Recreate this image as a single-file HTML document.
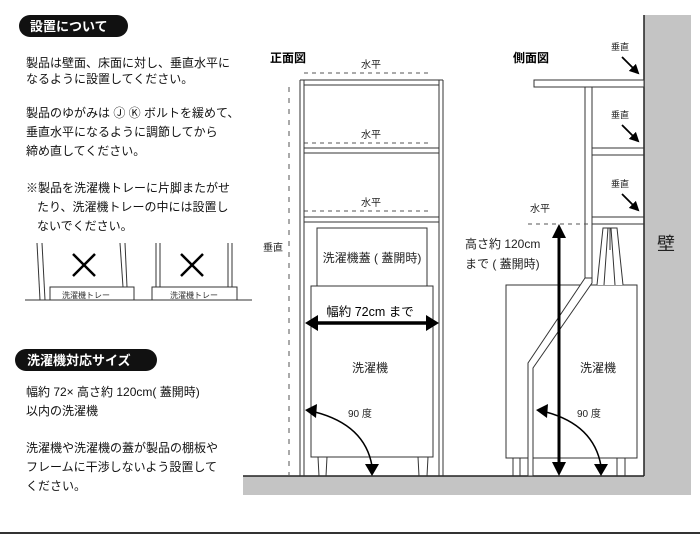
<!DOCTYPE html>
<html><head><meta charset="utf-8"><style>
html,body{margin:0;padding:0;background:#fff;}
svg{display:block;font-family:"Liberation Sans","Noto Sans CJK JP",sans-serif;}
</style></head><body>
<svg width="700" height="535" viewBox="0 0 700 535" xmlns="http://www.w3.org/2000/svg">
<defs>
<marker id="ah" markerWidth="10" markerHeight="10" refX="8" refY="5" orient="auto" markerUnits="userSpaceOnUse"><path d="M0,0 L10,5 L0,10 z" fill="#000"/></marker>
</defs>
<!-- left text -->
<rect x="19" y="15" width="109" height="22" rx="11" fill="#111"/>
<text x="30" y="31" fill="#fff" font-size="13" font-weight="bold">設置について</text>
<g font-size="12" fill="#111">
<text x="26" y="67">製品は壁面、床面に対し、垂直水平に</text>
<text x="26" y="83">なるように設置してください。</text>
<text x="26" y="117">製品のゆがみは Ⓙ Ⓚ ボルトを緩めて、</text>
<text x="26" y="136">垂直水平になるように調節してから</text>
<text x="26" y="155">締め直してください。</text>
<text x="26" y="192">※製品を洗濯機トレーに片脚またがせ</text>
<text x="37" y="211">たり、洗濯機トレーの中には設置し</text>
<text x="37" y="230">ないでください。</text>
</g>
<!-- tray diagrams -->
<g stroke="#333" stroke-width="1" fill="none">
<line x1="25" y1="300" x2="252" y2="300"/>
<line x1="37" y1="243" x2="40" y2="300"/><line x1="42" y1="243" x2="45" y2="300"/>
<line x1="120" y1="243" x2="123" y2="287"/><line x1="125" y1="243" x2="127" y2="287"/>
<rect x="50" y="287" width="84" height="13" fill="#fff"/>
<line x1="156" y1="243" x2="156" y2="300"/><line x1="160" y1="243" x2="160" y2="300"/>
<line x1="228" y1="243" x2="228" y2="300"/><line x1="232" y1="243" x2="232" y2="300"/>
<rect x="152" y="287" width="85" height="13" fill="#fff"/>
</g>
<g stroke="#000" stroke-width="2.5"><line x1="73" y1="254" x2="95" y2="276"/><line x1="95" y1="254" x2="73" y2="276"/><line x1="181" y1="254" x2="203" y2="276"/><line x1="203" y1="254" x2="181" y2="276"/></g>
<text x="62" y="298" font-size="8" fill="#333">洗濯機トレー</text>
<text x="170" y="298" font-size="8" fill="#333">洗濯機トレー</text>
<rect x="15" y="349" width="142" height="22" rx="11" fill="#111"/>
<text x="27" y="365" fill="#fff" font-size="13" font-weight="bold">洗濯機対応サイズ</text>
<g font-size="12" fill="#111">
<text x="26" y="396">幅約 72× 高さ約 120cm( 蓋開時)</text>
<text x="26" y="415">以内の洗濯機</text>
<text x="26" y="452">洗濯機や洗濯機の蓋が製品の棚板や</text>
<text x="26" y="471">フレームに干渉しないよう設置して</text>
<text x="26" y="490">ください。</text>
</g>
<!-- floor & wall -->
<rect x="243" y="476" width="448" height="19" fill="#c4c4c4"/>
<rect x="644" y="15" width="47" height="480" fill="#c4c4c4"/>
<line x1="243" y1="476" x2="644" y2="476" stroke="#222" stroke-width="1.5"/>
<line x1="644" y1="15" x2="644" y2="476" stroke="#222" stroke-width="1.5"/>
<text x="657" y="250" font-size="18" fill="#222">壁</text>
<line x1="0" y1="533" x2="700" y2="533" stroke="#333" stroke-width="2"/>
<!-- front view -->
<text x="270" y="62" font-size="12" font-weight="bold">正面図</text>
<g font-size="10" fill="#222"><text x="361" y="68">水平</text><text x="361" y="138">水平</text><text x="361" y="206">水平</text><text x="263" y="251">垂直</text></g>
<g stroke="#555" stroke-width="1" stroke-dasharray="4,4" fill="none">
<line x1="304" y1="73" x2="432" y2="73"/><line x1="304" y1="143" x2="432" y2="143"/><line x1="304" y1="211" x2="432" y2="211"/>
<line x1="289" y1="87" x2="289" y2="476" stroke-dasharray="5,6"/>
</g>
<g stroke="#333" stroke-width="1" fill="none">
<line x1="300" y1="80" x2="300" y2="476"/><line x1="304" y1="80" x2="304" y2="476"/>
<line x1="439" y1="80" x2="439" y2="476"/><line x1="443" y1="80" x2="443" y2="476"/>
<line x1="300" y1="80" x2="443" y2="80"/><line x1="304" y1="85" x2="439" y2="85"/>
<line x1="304" y1="148" x2="439" y2="148"/><line x1="304" y1="153" x2="439" y2="153"/>
<line x1="304" y1="217" x2="439" y2="217"/><line x1="304" y1="222" x2="439" y2="222"/>
<rect x="317" y="228" width="110" height="58" fill="#fff"/>
<rect x="311" y="286" width="122" height="171" fill="#fff"/>
<line x1="318" y1="457" x2="319" y2="476"/><line x1="327" y1="457" x2="326" y2="476"/>
<line x1="418" y1="457" x2="419" y2="476"/><line x1="428" y1="457" x2="427" y2="476"/>
</g>
<text x="372" y="262" font-size="12" text-anchor="middle" fill="#222">洗濯機蓋 ( 蓋開時)</text>
<text x="370" y="316" font-size="12.5" text-anchor="middle" fill="#000">幅約 72cm まで</text>
<line x1="318" y1="323" x2="426" y2="323" stroke="#000" stroke-width="3.5"/>
<path d="M305,323 L318,315 L318,331 z M439,323 L426,315 L426,331 z" fill="#000"/>
<text x="370" y="372" font-size="12" text-anchor="middle" fill="#222">洗濯機</text>
<text x="348" y="417" font-size="10" fill="#222">90 度</text>
<path d="M315,412 Q365,425 372,466" stroke="#000" stroke-width="1.5" fill="none"/>
<path d="M305,410 L317,404 L316,418 z M372,476 L365,464 L379,464 z" fill="#000"/>
<!-- side view -->
<text x="513" y="62" font-size="12" font-weight="bold">側面図</text>
<g font-size="9" fill="#222"><text x="611" y="50">垂直</text><text x="611" y="118">垂直</text><text x="611" y="187">垂直</text><text x="530" y="212" font-size="10">水平</text></g>
<g stroke="#000" stroke-width="1.8"><line x1="622" y1="57" x2="638" y2="73" marker-end="url(#ah)"/><line x1="622" y1="125" x2="638" y2="141" marker-end="url(#ah)"/><line x1="622" y1="194" x2="638" y2="210" marker-end="url(#ah)"/></g>
<g stroke="#333" stroke-width="1" fill="none">
<rect x="534" y="80" width="110" height="7" fill="#fff"/>
<line x1="592" y1="148" x2="644" y2="148"/><line x1="592" y1="155" x2="644" y2="155"/>
<line x1="592" y1="217" x2="644" y2="217"/><line x1="592" y1="224" x2="644" y2="224"/>
<rect x="506" y="285" width="131" height="173" fill="#fff"/>
<line x1="513" y1="458" x2="513" y2="476"/><line x1="520" y1="458" x2="520" y2="476"/>
<line x1="617" y1="458" x2="617" y2="476"/><line x1="625" y1="458" x2="625" y2="476"/>
<path d="M585,87 L585,278 L528,363 L528,476 L533,476 L533,368 L592,283 L592,87 Z" fill="#fff"/>
<line x1="585" y1="278" x2="592" y2="278"/>
<path d="M597,285 L603,228 L617,228 L623,285" fill="#fff"/>
<path d="M604,285 L608,228 M615,285 L611,228 M610,228 L610,250"/>
</g>
<line x1="528" y1="224" x2="590" y2="224" stroke="#555" stroke-dasharray="4,4"/>
<line x1="559" y1="236" x2="559" y2="464" stroke="#000" stroke-width="3"/>
<path d="M559,224 L552,238 L566,238 z M559,476 L552,462 L566,462 z" fill="#000"/>
<text x="465" y="248" font-size="12" fill="#222">高さ約 120cm</text>
<text x="465" y="268" font-size="12" fill="#222">まで ( 蓋開時)</text>
<text x="598" y="372" font-size="12" text-anchor="middle" fill="#222">洗濯機</text>
<text x="577" y="417" font-size="10" fill="#222">90 度</text>
<path d="M546,412 Q594,425 601,466" stroke="#000" stroke-width="1.5" fill="none"/>
<path d="M536,410 L548,404 L547,418 z M601,476 L594,464 L608,464 z" fill="#000"/>
</svg>
</body></html>
